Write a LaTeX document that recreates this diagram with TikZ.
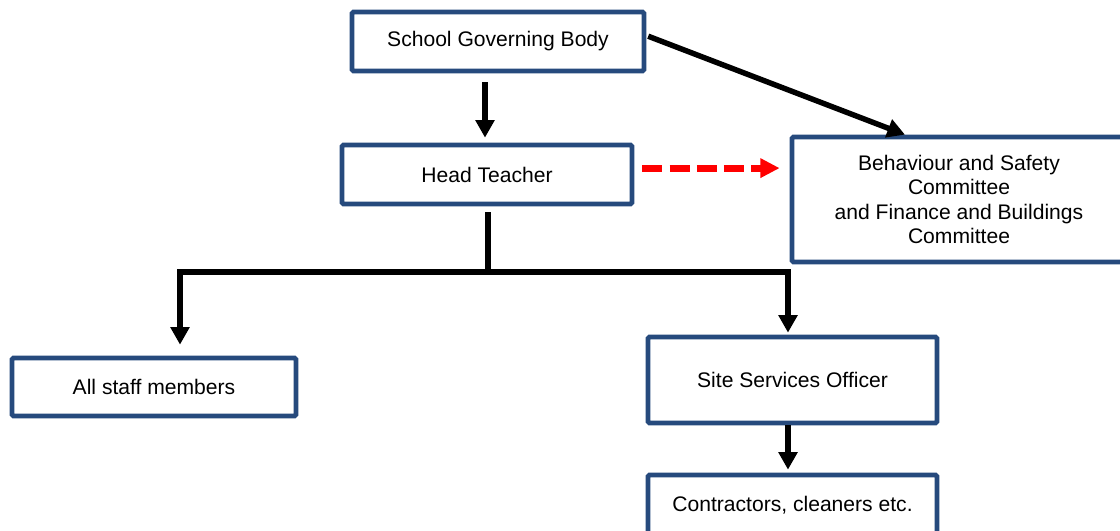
\documentclass[tikz,border=0pt]{standalone}
\usepackage{fontspec}
\setmainfont{Liberation Sans}
\usetikzlibrary{positioning, calc, arrows.meta}
\definecolor{boxblue}{RGB}{38,74,125}
\tikzset{
  box/.style={draw=boxblue, line width=3.3pt, rounded corners=1pt, fill=white,
    align=center, inner sep=2pt, font=\fontsize{15}{17.5}\selectfont},
  arr/.style={line width=3.9pt, line join=miter, -{Triangle[width=0.46cm,length=0.44cm]}},
  tree/.style={line width=3.9pt, line join=miter},
  dasharr/.style={red, line width=5pt, dash pattern=on 0.5cm off 0.18cm,
    -{Triangle[width=0.46cm,length=0.48cm]}}
}
\begin{document}
\begin{tikzpicture}[x=0.025cm, y=-0.025cm]
                \useasboundingbox (0,0) rectangle (1120,531);
                \node[box, minimum width=7.3cm, minimum height=1.475cm] (sgb) at (498,41.5) {School Governing Body};
                \node[box, minimum width=7.25cm, minimum height=1.475cm] (ht) at (487,174.5) {Head Teacher};
                \node[box, minimum width=8.35cm, minimum height=3.125cm] (bsc) at (959,199.5) {Behaviour and Safety\\Committee\\and Finance and Buildings\\Committee};
                \node[box, minimum width=7.1cm, minimum height=1.45cm] (staff) at (154,387) {All staff members};
                \node[box, minimum width=7.225cm, minimum height=2.15cm] (sso) at (792.5,380) {Site Services Officer};
                \node[box, minimum width=7.225cm, minimum height=1.5cm] (con) at (792.5,505) {Contractors, cleaners etc.};
                \coordinate (split) at (488,272);
                \coordinate (lft) at (180,272);
                \coordinate (rgt) at (788,272);
                \draw[arr, shorten <=0.225cm, shorten >=0.125cm] ([xshift=-0.05cm]sgb.south -| ht.north) -- ([xshift=-0.05cm]ht.north);
                \draw[arr, shorten <=0.05cm] ([yshift=0.15cm]sgb.east) -- ([xshift=-1.35cm]bsc.north);
                \draw[dasharr, shorten <=0.2cm, shorten >=0.25cm] ([yshift=0.16cm]ht.east) -- ([yshift=0.16cm]ht.east -| bsc.west);
                \draw[tree] ([yshift=-0.15cm]ht.south -| split) -- (split);
                \draw[arr, shorten >=0.275cm] (split) -- (lft) -- (lft |- staff.north);
                \draw[arr, shorten >=0.05cm] (split) -- (rgt) -- (rgt |- sso.north);
                \draw[arr, shorten >=0.075cm] (rgt |- sso.south) -- (rgt |- con.north);
\end{tikzpicture}
\end{document}
